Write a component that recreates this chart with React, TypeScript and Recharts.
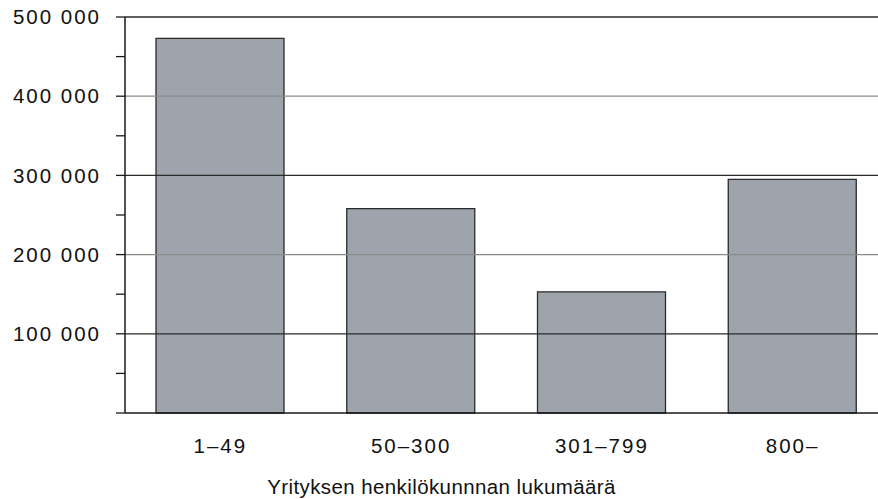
import React from 'react'
import { BarChart, Bar, XAxis, YAxis, ReferenceLine, Label } from 'recharts'

const categories = ['1–49', '50–300', '301–799', '800–']
const employees = [473000, 258000, 153000, 295000]
const yTicks = [0, 50000, 100000, 150000, 200000, 250000, 300000, 350000, 400000, 450000, 500000]
const gridValues = [100000, 200000, 300000, 400000, 500000]

const data = categories.map((c, i) => ({ category: c, value: employees[i] }))

const fmt = (v: number) => (v % 100000 === 0 && v > 0 ? `${v / 1000} 000` : '')

const font = { fontFamily: '"Liberation Sans", Arial, sans-serif', fontSize: 20.5, fill: '#111', letterSpacing: 2 }

export default function App() {
  return (
    <div style={{ position: 'absolute', left: 0, top: 0, width: 878, height: 499, overflow: 'hidden', background: '#fff' }}>
      <BarChart width={888} height={499} data={data} margin={{ top: 17, right: 0, bottom: 0, left: 0 }} barSize={128}>
        {gridValues.map((v, i) => (
          <ReferenceLine key={v} y={v} stroke={i % 2 === 0 ? '#2b2b2b' : '#8a8a8a'} strokeWidth={1.3} />
        ))}
        <XAxis
          dataKey="category"
          height={86}
          tickLine={false}
          axisLine={{ stroke: '#1a1a1a', strokeWidth: 1.5 }}
          tick={font}
          tickMargin={19}
        >
          <Label
            value="Yrityksen henkilökunnnan lukumäärä"
            position="insideBottom"
            offset={5}
            dx={-65}
            style={{ ...font, letterSpacing: 0.4 }}
          />
        </XAxis>
        <YAxis
          width={125}
          domain={[0, 500000]}
          ticks={yTicks}
          interval={0}
          tickFormatter={fmt}
          tickSize={9}
          tickMargin={15}
          tickLine={{ stroke: '#1a1a1a', strokeWidth: 1.3 }}
          axisLine={{ stroke: '#1a1a1a', strokeWidth: 1.5 }}
          tick={font}
        />
        <Bar dataKey="value" fill="#9ea4ab" stroke="#2a2a2a" strokeWidth={1.3} isAnimationActive={false} />
      </BarChart>
    </div>
  )
}
